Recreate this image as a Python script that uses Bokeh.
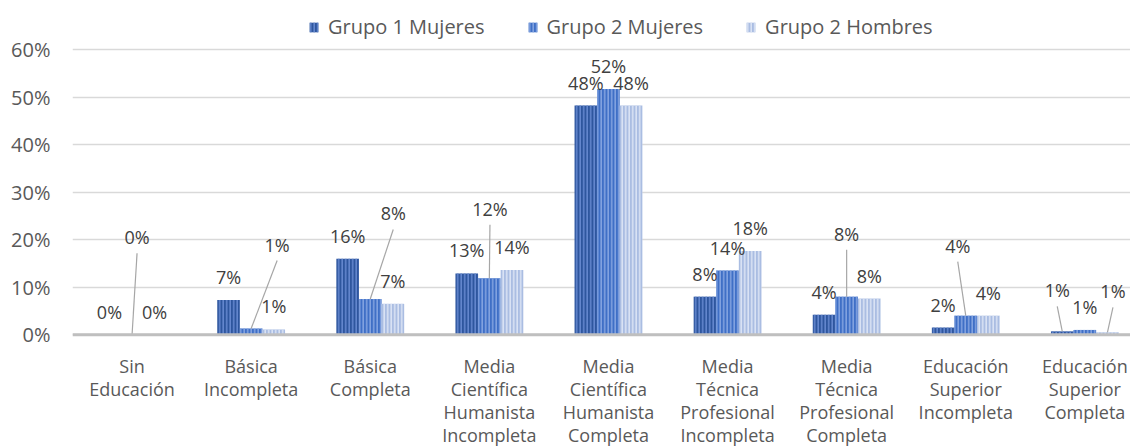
from bokeh.plotting import figure
from bokeh.models import (ColumnDataSource, Range1d, FixedTicker, PrintfTickFormatter,
                          Span, Legend, LegendItem)
from bokeh.core.properties import value
from bokeh.embed import file_html
from bokeh.resources import INLINE

# ---------------- data ----------------
categories = [
    "Sin\nEducación",
    "Básica\nIncompleta",
    "Básica\nCompleta",
    "Media\nCientífica\nHumanista\nIncompleta",
    "Media\nCientífica\nHumanista\nCompleta",
    "Media\nTécnica\nProfesional\nIncompleta",
    "Media\nTécnica\nProfesional\nCompleta",
    "Educación\nSuperior\nIncompleta",
    "Educación\nSuperior\nCompleta",
]
series_names = ["Grupo 1 Mujeres", "Grupo 2 Mujeres", "Grupo 2 Hombres"]
grupo1_mujeres = [0.0, 7.3, 16.0, 12.9, 48.2, 8.0, 4.2, 1.5, 0.7]
grupo2_mujeres = [0.0, 1.3, 7.5, 11.9, 51.7, 13.5, 8.0, 4.0, 1.0]
grupo2_hombres = [0.0, 1.1, 6.5, 13.6, 48.2, 17.6, 7.6, 4.0, 0.5]
y_ticks = [0, 10, 20, 30, 40, 50, 60]

series_values = [grupo1_mujeres, grupo2_mujeres, grupo2_hombres]

# ---------------- layout / style ----------------
W, H = 1130, 448
LEFT = 72
PX_PER_CAT = 119.1
PX_PER_PCT = 4.753
ZERO_FROM_TOP = 334.2
x_end = (W - LEFT) / PX_PER_CAT
y_end = ZERO_FROM_TOP / PX_PER_PCT
y_start = -(H - ZERO_FROM_TOP) / PX_PER_PCT
BAR_W = 22.6 / PX_PER_CAT

fills = ["#2E569E", "#3F6FC6", "#AABDE2"]
hatches = ["#6487CE", "#82A3E0", "#DAE3F4"]
TEXT = "#595959"
LABEL = "#404040"
FONT = "Open Sans"

# label offsets in px (dx right, dy up from bar top); default (0, 23)
label_offsets = {
    (0, 1): (5, 97.5),
    (1, 1): (26, 84),
    (2, 1): (23, 85.6),
    (3, 1): (0.6, 69.3),
    (6, 1): (0, 63),
    (7, 1): (-8, 70),
    (8, 0): (-5, 41),
    (8, 2): (5.5, 41),
}

p = figure(width=W, height=H, x_range=Range1d(0, x_end), y_range=Range1d(y_start, y_end),
           output_backend="svg", toolbar_location=None,
           min_border_left=LEFT, min_border_right=0, min_border_top=0, min_border_bottom=0)
p.outline_line_color = None
p.background_fill_color = "white"
p.border_fill_color = "white"
p.xaxis.visible = False
p.xgrid.grid_line_color = None

p.yaxis.ticker = FixedTicker(ticks=y_ticks)
p.yaxis.formatter = PrintfTickFormatter(format="%d%%")
p.yaxis.axis_line_color = None
p.yaxis.major_tick_line_color = None
p.yaxis.minor_tick_line_color = None
p.yaxis.major_tick_out = 0
p.yaxis.major_label_standoff = 22
p.yaxis.major_label_text_font = FONT
p.yaxis.major_label_text_font_size = "20px"
p.yaxis.major_label_text_color = TEXT
p.ygrid.grid_line_color = "#D9D9D9"
p.ygrid.grid_line_width = 1.5

renderers = []
for s, vals in enumerate(series_values):
    xs = [i + 0.5 + (s - 1) * BAR_W for i in range(len(categories))]
    src = ColumnDataSource(dict(x=xs, top=vals))
    r = p.vbar(x="x", top="top", bottom=0, width=BAR_W, source=src,
               fill_color=fills[s], line_color=None,
               hatch_pattern="vertical_line", hatch_color=hatches[s],
               hatch_scale=3.5, hatch_weight=1.6)
    renderers.append(r)

p.add_layout(Span(location=0, dimension="width", line_color="#BFBFBF", line_width=3))

# data labels + leader lines
lx, ly, lt = [], [], []
sx0, sy0, sx1, sy1 = [], [], [], []
for s, vals in enumerate(series_values):
    for i, v in enumerate(vals):
        bx = i + 0.5 + (s - 1) * BAR_W
        dx, dy = label_offsets.get((i, s), (0, 23))
        lx.append(bx + dx / PX_PER_CAT)
        ly.append(v + dy / PX_PER_PCT)
        lt.append(f"{int(v + 0.5)}%")
        if (i, s) in label_offsets:
            sx0.append(bx + dx / PX_PER_CAT)
            sy0.append(v + (dy - 16) / PX_PER_PCT)
            sx1.append(bx)
            sy1.append(v)

p.segment(x0=sx0, y0=sy0, x1=sx1, y1=sy1, line_color="#A6A6A6", line_width=1.2)
p.text(x=lx, y=ly, text=lt, text_font=value(FONT), text_font_size="18px",
       text_color=LABEL, text_align="center", text_baseline="middle")

# category labels
cx, cy, ct = [], [], []
for i, c in enumerate(categories):
    for k, line in enumerate(c.split("\n")):
        baseline_px = 365 + 23 * k  # from figure top
        cx.append(i + 0.5)
        cy.append((ZERO_FROM_TOP - baseline_px) / PX_PER_PCT)
        ct.append(line)
p.text(x=cx, y=cy, text=ct, text_font=value(FONT), text_font_size="18px",
       text_color=TEXT, text_align="center", text_baseline="alphabetic")

legend = Legend(items=[LegendItem(label=n, renderers=[r]) for n, r in zip(series_names, renderers)],
                orientation="horizontal", location=(236, 408),
                label_text_font=FONT, label_text_font_size="20px", label_text_color=TEXT,
                glyph_width=11, glyph_height=12, label_standoff=9, spacing=42,
                padding=0, margin=0, border_line_color=None, background_fill_alpha=0)
p.add_layout(legend)

open("out.html", "w").write(file_html(p, INLINE))
